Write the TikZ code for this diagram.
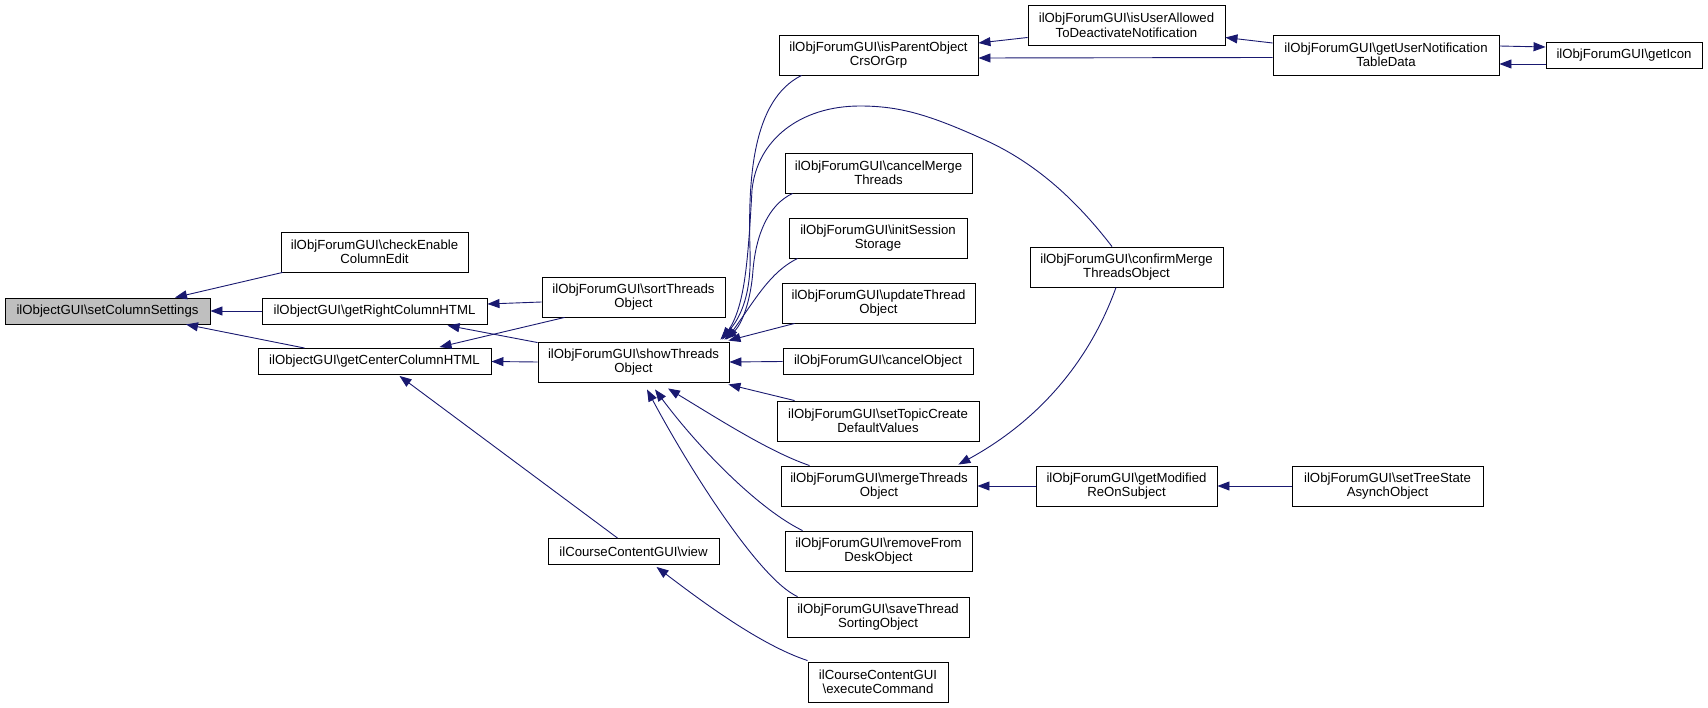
\documentclass[tikz,border=0pt]{standalone}
\usepackage{fontspec}
\setmainfont{Liberation Sans}
\usetikzlibrary{arrows.meta,calc}
\definecolor{edgeblue}{HTML}{191970}
\definecolor{rootgray}{HTML}{BFBFBF}
\begin{document}
\begin{tikzpicture}[x=1pt,y=-1pt,
  fn/.style={draw=black, line width=0.9pt, fill=white, inner sep=0pt, align=center,
             font=\fontsize{13.2}{14.5}\selectfont},
  ed/.style={draw=edgeblue, line width=0.9pt, -{Triangle[length=12pt,width=9pt]}}]
\useasboundingbox (0,0) rectangle (1708,708);
% nodes
\node[fn, fill=rootgray, minimum width=205pt, minimum height=26pt] (scs) at (107.5,311) {ilObjectGUI\textbackslash setColumnSettings};
\node[fn, minimum width=187pt, minimum height=40pt] (cec) at (374.5,252) {ilObjForumGUI\textbackslash checkEnable\\ColumnEdit};
\node[fn, minimum width=225pt, minimum height=26pt] (grc) at (374.5,311) {ilObjectGUI\textbackslash getRightColumnHTML};
\node[fn, minimum width=233pt, minimum height=26pt] (gcc) at (374.5,361.5) {ilObjectGUI\textbackslash getCenterColumnHTML};
\node[fn, minimum width=183pt, minimum height=40pt] (sto) at (633.5,297) {ilObjForumGUI\textbackslash sortThreads\\Object};
\node[fn, minimum width=191pt, minimum height=40pt] (sho) at (633.5,362) {ilObjForumGUI\textbackslash showThreads\\Object};
\node[fn, minimum width=171pt, minimum height=26pt] (view) at (633.5,551.5) {ilCourseContentGUI\textbackslash view};
\node[fn, minimum width=199pt, minimum height=40pt] (ipo) at (878.5,55) {ilObjForumGUI\textbackslash isParentObject\\CrsOrGrp};
\node[fn, minimum width=187pt, minimum height=40pt] (cmt) at (878.5,173) {ilObjForumGUI\textbackslash cancelMerge\\Threads};
\node[fn, minimum width=178pt, minimum height=40pt] (iss) at (878,238) {ilObjForumGUI\textbackslash initSession\\Storage};
\node[fn, minimum width=193pt, minimum height=40pt] (uto) at (878.5,303) {ilObjForumGUI\textbackslash updateThread\\Object};
\node[fn, minimum width=190pt, minimum height=26pt] (cao) at (878,361.5) {ilObjForumGUI\textbackslash cancelObject};
\node[fn, minimum width=202pt, minimum height=40pt] (stc) at (878,421) {ilObjForumGUI\textbackslash setTopicCreate\\DefaultValues};
\node[fn, minimum width=196pt, minimum height=40pt] (mto) at (879,486) {ilObjForumGUI\textbackslash mergeThreads\\Object};
\node[fn, minimum width=187pt, minimum height=40pt] (rfd) at (878.5,551) {ilObjForumGUI\textbackslash removeFrom\\DeskObject};
\node[fn, minimum width=182pt, minimum height=40pt] (tso) at (878,617) {ilObjForumGUI\textbackslash saveThread\\SortingObject};
\node[fn, minimum width=140pt, minimum height=40pt] (exc) at (878,682) {ilCourseContentGUI\\\textbackslash executeCommand};
\node[fn, minimum width=197pt, minimum height=40pt] (iua) at (1126.5,25.5) {ilObjForumGUI\textbackslash isUserAllowed\\ToDeactivateNotification};
\node[fn, minimum width=193pt, minimum height=40pt] (cmo) at (1126.5,267) {ilObjForumGUI\textbackslash confirmMerge\\ThreadsObject};
\node[fn, minimum width=181pt, minimum height=40pt] (gmr) at (1126.5,486) {ilObjForumGUI\textbackslash getModified\\ReOnSubject};
\node[fn, minimum width=226pt, minimum height=40pt] (gun) at (1386,55) {ilObjForumGUI\textbackslash getUserNotification\\TableData};
\node[fn, minimum width=156pt, minimum height=26pt] (gic) at (1624,55.5) {ilObjForumGUI\textbackslash getIcon};
\node[fn, minimum width=191pt, minimum height=40pt] (tsa) at (1387.5,486) {ilObjForumGUI\textbackslash setTreeState\\AsynchObject};
% edges
\draw[ed] ($(cec.south west)+(2,0)$) -- ($(scs.north)+(67.5,0)$);
\draw[ed] (grc.west) -- (scs.east);
\draw[ed] ($(gcc.north west)+(47,0)$) -- ($(scs.south)+(78.5,0)$);
\draw[ed] ($(sto.west)+(0,5)$) -- ($(grc.east)+(0,-7)$);
\draw[ed] ($(sho.north west)+(0,1)$) -- ($(grc.south)+(73,1)$);
\draw[ed] ($(sto.south west)+(23,0)$) -- ($(gcc.north)+(65,-1)$);
\draw[ed] (sho.west) -- (gcc.east);
\draw[ed] ($(view.north)+(-16,0)$) -- ($(gcc.south)+(25,1)$);
\draw[ed] ($(exc.north west)+(0,-1)$) .. controls (760,645) and (700,600) .. ($(view.south)+(23,2)$);
\draw[ed] ($(ipo.south west)+(23,0)$) .. controls (752,100) and (748,180) .. (750,250)
          .. controls (752,300) and (737,322) .. ($(sho.north east)+(-9,-2)$);
\draw[ed] ($(cmo.north)+(-14.5,0)$) .. controls (1080,205) and (1040,165) .. (985,140)
          .. controls (930,115) and (900,106) .. (860,106)
          .. controls (800,106) and (757,140) .. (752,190)
          .. controls (748,260) and (745,305) .. ($(sho.north east)+(-7,-2)$);
\draw[ed] ($(cmt.south west)+(8,0)$) .. controls (768,205) and (756,235) .. (753,270)
          .. controls (751,300) and (742,325) .. ($(sho.north east)+(-5,-2)$);
\draw[ed] ($(iss.south west)+(9,0)$) .. controls (770,272) and (755,300) .. ($(sho.north east)+(-3,-2)$);
\draw[ed] ($(uto.south west)+(13,0)$) -- ($(sho.north east)+(-1,-1)$);
\draw[ed] (cao.west) -- (sho.east);
\draw[ed] ($(stc.north west)+(18,0)$) -- ($(sho.south east)+(-1,2)$);
\draw[ed] ($(mto.north west)+(29,0)$) .. controls (770,452) and (720,420) .. ($(sho.south)+(34.5,6)$);
\draw[ed] ($(rfd.north west)+(18,0)$) .. controls (760,510) and (700,450) .. ($(sho.south)+(21.5,7)$);
\draw[ed] ($(tso.north west)+(11,0)$) .. controls (760,580) and (690,470) .. ($(sho.south)+(13.5,7)$);
\draw[ed] ($(cmo.south)+(-10.5,0)$) .. controls (1090,360) and (1040,420) .. ($(mto.north east)+(-19,-1)$);
\draw[ed] (gmr.west) -- (mto.east);
\draw[ed] (tsa.west) -- (gmr.east);
\draw[ed] ($(iua.west)+(0,12)$) -- ($(ipo.east)+(0,-12)$);
\draw[ed] ($(gun.west)+(0,2.5)$) -- ($(ipo.east)+(0,3)$);
\draw[ed] ($(gun.west)+(0,-12)$) -- ($(iua.east)+(0,12)$);
\draw[ed] ($(gun.east)+(0,-9)$) -- ($(gic.west)+(0,-8.5)$);
\draw[ed] ($(gic.west)+(0,8.5)$) -- ($(gun.east)+(0,9)$);
\end{tikzpicture}
\end{document}
